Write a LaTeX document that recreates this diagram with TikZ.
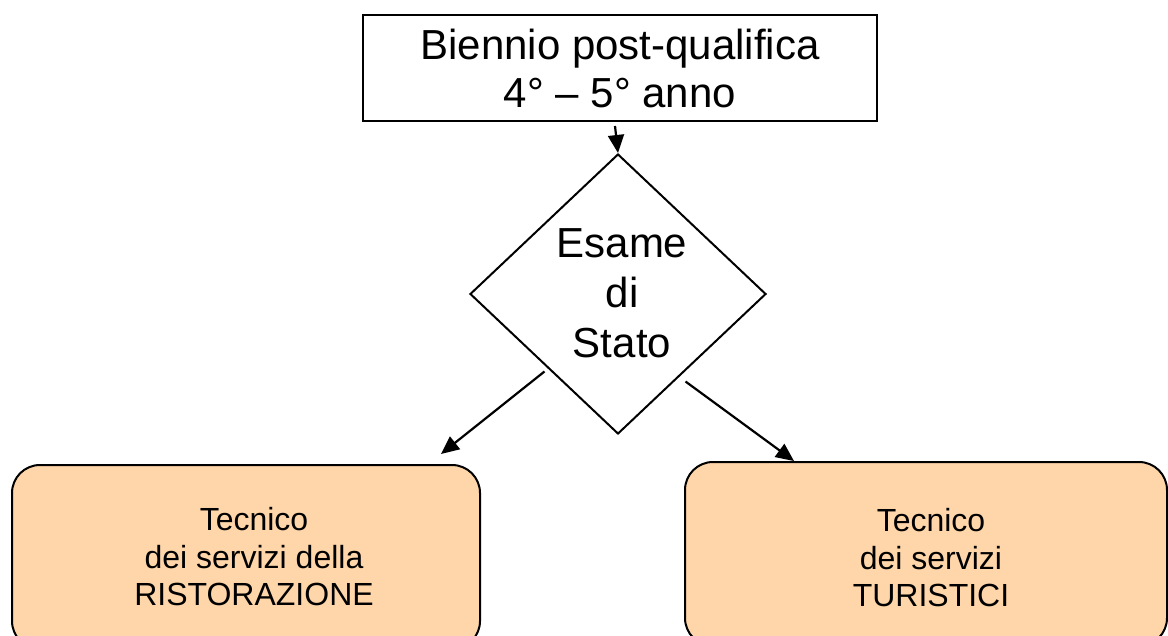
\documentclass[tikz,border=0pt]{standalone}
\usepackage{fontspec}
\setmainfont{Liberation Sans}
\usetikzlibrary{shapes.geometric,arrows.meta}
\definecolor{boxorange}{HTML}{FFD6A9}
\begin{document}
\begin{tikzpicture}[x=1pt,y=-1pt,
  plainbox/.style={draw=black, line width=2pt, fill=white, rectangle, inner sep=0pt},
  roundbox/.style={draw=black, line width=2pt, fill=boxorange, rectangle, rounded corners=28pt, inner sep=0pt, minimum height=184pt},
  decision/.style={draw=black, line width=2pt, fill=white, diamond, inner sep=0pt, minimum width=296pt, minimum height=280pt},
  bigtext/.style={align=center, inner sep=0pt, font=\fontsize{42}{48}\selectfont},
  smalltext/.style={align=center, inner sep=0pt, font=\fontsize{32}{37.5}\selectfont},
  arr/.style={line width=2.2pt, -{Triangle[length=18pt,width=16pt]}}]
\useasboundingbox (0,0) rectangle (1168,636);
\clip (0,0) rectangle (1168,636);
\fill[white] (0,0) rectangle (1168,636);

\node[plainbox, minimum width=514pt, minimum height=106pt] (topbox) at (620,68) {};
\node[bigtext] (toptext) at (620,68) {Biennio post-qualifica\\4° – 5° anno};

\node[decision] (dia) at (618,294) {};
\node[bigtext, font=\fontsize{42}{50}\selectfont] (diatext) at (622,293) {Esame\\di\\Stato};

\node[roundbox, minimum width=468pt] (ristbox) at (246,557) {};
\node[smalltext] (risttext) at (254,557) {Tecnico\\dei servizi della\\RISTORAZIONE};

\node[roundbox, minimum width=482pt] (turbox) at (926,554) {};
\node[smalltext] (turtext) at (931,558) {Tecnico\\dei servizi\\TURISTICI};

\draw[arr] ([shift={(-5pt,-4pt)}]topbox.south) -- (dia.north);
\draw[arr] ([shift={(1pt,-7pt)}]dia.south west) -- ([shift={(-40pt,10pt)}]ristbox.north east);
\draw[arr] ([shift={(-7pt,-17pt)}]dia.south east) -- ([shift={(110pt,0pt)}]turbox.north west);
\end{tikzpicture}
\end{document}
